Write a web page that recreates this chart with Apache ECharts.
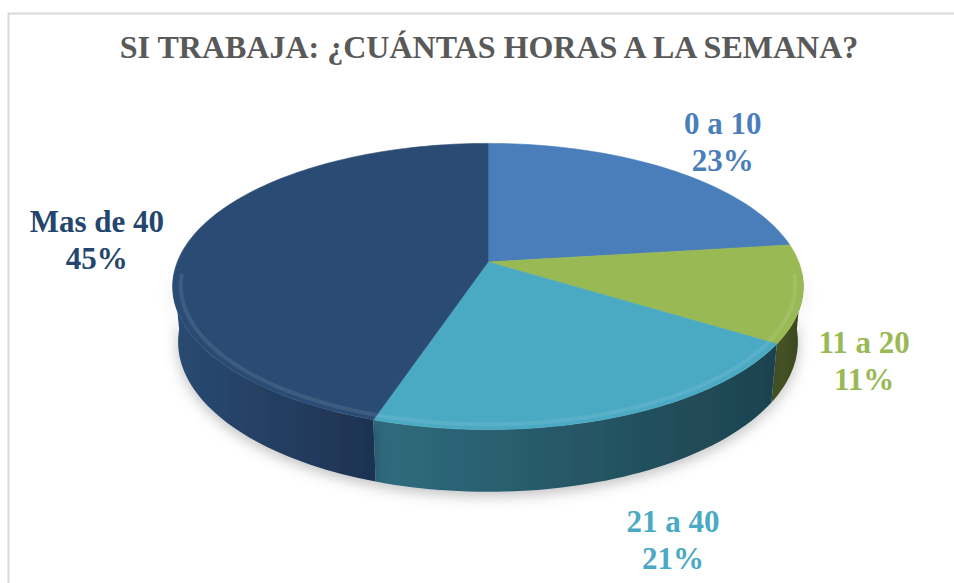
<!DOCTYPE html>
<html>
<head>
<meta charset="utf-8">
<script src="https://cdn.jsdelivr.net/npm/echarts@6/dist/echarts.min.js"></script>
<style>
html, body { margin: 0; background: #fff; }
#chart { width: 954px; height: 583px; }
</style>
</head>
<body>
<div id="chart"></div>
<script>
var categories = ['0 a 10', '11 a 20', '21 a 40', 'Mas de 40'];
var percents = [23, 11, 21, 45];

var topColors = ['#4a7ebb', '#98b954', '#4aa9c3', '#2a4c74'];
var sideColors = [['#3a6496', '#2c4c73'], ['#4b5a2a', '#39451f'], ['#2f6c7e', '#1d424e'], ['#2a4a72', '#1e3251']];
var labelColors = ['#4a7ebb', '#98b954', '#4aa9c3', '#24456e'];
// small shifts to put each label where excel left it
var labelNudge = [[15, -32], [-18, 31], [22, 41], [-23, -23]];

// fake 3d camera (tilted pie seen with some perspective)
var cam = { cx: 488, cy: 262, f: 1625, eye: 5.23, sin: 0.447, cos: 0.894, depth: 0.2 };

var total = percents.reduce(function (a, b) { return a + b; }, 0);

function project(u, w, y) {
	var dist = cam.eye - (w * cam.cos + y * cam.sin);
	return [cam.cx + cam.f * u / dist, cam.cy + cam.f * (-y * cam.cos + w * cam.sin) / dist];
}

function arc(a0, a1, r, y) {
	var pts = [];
	var n = Math.max(2, Math.ceil((a1 - a0) / (Math.PI / 120)));
	for (var k = 0; k <= n; k++) {
		var t = a0 + (a1 - a0) * k / n;
		pts.push(project(r * Math.sin(t), -r * Math.cos(t), y));
	}
	return pts;
}

function sliceAngles(i, value) {
	var before = 0;
	for (var k = 0; k < i; k++) before += percents[k];
	return [before / total * Math.PI * 2, (before + value) / total * Math.PI * 2];
}

// only the front part of the wall can be seen
var wallFrom = 95 / 180 * Math.PI, wallTo = 265 / 180 * Math.PI;

function renderSide(params, api) {
	var i = params.dataIndex;
	var a = sliceAngles(i, api.value(0));
	var a0 = Math.max(a[0], wallFrom), a1 = Math.min(a[1], wallTo);
	if (a1 <= a0) return { type: 'group', children: [] };
	var pts = arc(a0, a1, 1, 0).concat(arc(a0, a1, 1, -cam.depth).reverse());
	return {
		type: 'polygon',
		shape: { points: pts },
		style: {
			fill: {
				type: 'linear', x: 0, y: 0, x2: 1, y2: 0,
				colorStops: [{ offset: 0, color: sideColors[i][0] }, { offset: 1, color: sideColors[i][1] }]
			},
			shadowBlur: 14,
			shadowColor: 'rgba(0,0,0,0.25)',
			shadowOffsetY: 4
		}
	};
}

function renderTop(params, api) {
	var i = params.dataIndex;
	var value = api.value(0);
	var a = sliceAngles(i, value);
	var pts = [project(0, 0, 0)].concat(arc(a[0], a[1], 1, 0));
	var mid = (a[0] + a[1]) / 2;
	var anchor = project(1.25 * Math.sin(mid), -1.25 * Math.cos(mid), -cam.depth / 2);
	var children = [
		{
			type: 'polygon',
			shape: { points: pts },
			style: { fill: topColors[i], stroke: topColors[i], lineWidth: 0.6 }
		}
	];
	// soft bevel light along the front rim
	var r0 = Math.max(a[0], wallFrom), r1 = Math.min(a[1], wallTo);
	if (r1 > r0) {
		children.push({
			type: 'polyline',
			shape: { points: arc(r0, r1, 0.975, 0) },
			style: { stroke: 'rgba(255,255,255,0.09)', lineWidth: 4, fill: null },
			silent: true
		});
	}
	children.push({
		type: 'text',
		x: anchor[0] + labelNudge[i][0],
		y: anchor[1] + labelNudge[i][1],
		style: {
			text: categories[i] + '\n' + value + '%',
			fill: labelColors[i],
			font: 'bold 31px "Liberation Serif"',
			align: 'center',
			verticalAlign: 'middle',
			lineHeight: 37
		}
	});
	return { type: 'group', children: children };
}

var seriesData = percents.map(function (v, i) {
	return { value: v, name: categories[i] };
});

var chart = echarts.init(document.getElementById('chart'), null, { renderer: 'svg' });
var option = {
	animation: false,
	backgroundColor: '#fff',
	title: {
		text: 'SI TRABAJA: ¿CUÁNTAS HORAS A LA SEMANA?',
		left: 489,
		top: 31,
		textAlign: 'center',
		padding: 0,
		textStyle: {
			fontFamily: 'Liberation Serif',
			fontWeight: 'bold',
			fontSize: 32,
			color: '#595959'
		}
	},
	graphic: [{
		type: 'rect',
		shape: { x: 8.5, y: 13.5, width: 1000, height: 1000 },
		style: { fill: 'none', stroke: '#d9d9d9', lineWidth: 2 },
		silent: true
	}],
	series: [
		{
			name: 'lado',
			type: 'custom',
			coordinateSystem: 'none',
			renderItem: renderSide,
			data: seriesData,
			z: 1
		},
		{
			name: 'cara',
			type: 'custom',
			coordinateSystem: 'none',
			renderItem: renderTop,
			data: seriesData,
			z: 2
		}
	]
};
chart.setOption(option);
</script>
</body>
</html>
